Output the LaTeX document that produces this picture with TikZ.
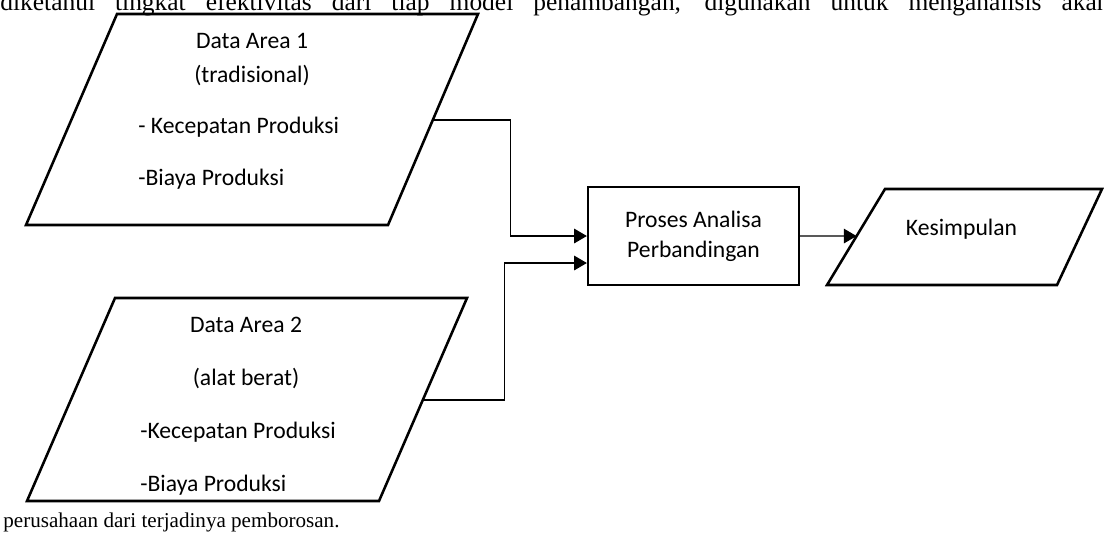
\documentclass[tikz,border=0pt]{standalone}
\usepackage{fontspec}
\setmainfont{Liberation Serif}
\newfontfamily\calibri{Carlito}
\usetikzlibrary{calc, arrows.meta}

\begin{document}
\begin{tikzpicture}[x=0.55pt, y=-0.55pt,
		shape line/.style={line width=1.4pt, line join=miter},
		conn/.style={line width=0.7pt, -{Triangle[length=7pt, width=8pt]}},
		label text/.style={font=\calibri\fontsize{13}{16.5}\selectfont, inner sep=0pt},
		body text/.style={font=\fontsize{12}{14}\selectfont, inner sep=0pt}]
		
		\clip (0,0) rectangle (1104,533);
		
		% running text above and below
		\node [body text, font=\fontsize{14}{16}\selectfont, anchor=base west] (text top) at (0,10)
			{\makebox[610pt][s]{diketahui tingkat efektivitas dari tiap model penambangan, digunakan untuk menganalisis akan}};
		\node [body text, font=\fontsize{11.6}{14}\selectfont, anchor=base west] (text bottom) at (3,527)
			{perusahaan dari terjadinya pemborosan.};
		
		% data area 1
		\coordinate (area1 a) at (117,14);
		\coordinate (area1 b) at (478,14);
		\coordinate (area1 c) at (388,225);
		\coordinate (area1 d) at (26,225);
		\coordinate (area1 out) at ($ (area1 b)!0.502!(area1 c) $);
		
		\draw [shape line] (area1 a) -- (area1 b) -- (area1 c) -- (area1 d) -- cycle;
		
		\node [label text, anchor=base] (area1 title) at (252,48) {Data Area 1};
		\node [label text, anchor=base] (area1 type) at (252,82) {(tradisional)};
		\node [label text, anchor=base west] (area1 speed) at (138,133) {- Kecepatan Produksi};
		\node [label text, anchor=base west] (area1 cost) at (138,185) {-Biaya Produksi};
		
		% data area 2
		\coordinate (area2 a) at (115,298);
		\coordinate (area2 b) at (467,298);
		\coordinate (area2 c) at (379,501);
		\coordinate (area2 d) at (27,501);
		\coordinate (area2 out) at ($ (area2 b)!0.502!(area2 c) $);
		
		\draw [shape line] (area2 a) -- (area2 b) -- (area2 c) -- (area2 d) -- cycle;
		
		\node [label text, anchor=base] (area2 title) at (246,332) {Data Area 2};
		\node [label text, anchor=base] (area2 type) at (246,385) {(alat berat)};
		\node [label text, anchor=base west] (area2 speed) at (140,438) {-Kecepatan Produksi};
		\node [label text, anchor=base west] (area2 cost) at (140,491) {-Biaya Produksi};
		
		% analysis box
		\node [label text, draw, line width=1.3pt, minimum width=116pt, minimum height=53.9pt, align=center] (analysis) at (693.5,236) {Proses Analisa\\Perbandingan};
		
		% conclusion
		\coordinate (result a) at (885,189);
		\coordinate (result b) at (1102,189);
		\coordinate (result c) at (1057,285);
		\coordinate (result d) at (827,285);
		\coordinate (result in) at ($ (result a)!0.49!(result d) $);
		
		\draw [shape line] (result a) -- (result b) -- (result c) -- (result d) -- cycle;
		
		\node [label text, anchor=base] (result) at (961.5,235) {Kesimpulan};
		
		% connectors
		\draw [conn] (area1 out) -- ++(78,0) |- (analysis.west);
		\draw [conn] (area2 out) -- ++(82,0) |- ($ (analysis.west) + (0,27) $);
		\draw [conn] (analysis.east) -- (result in);
	\end{tikzpicture}
\end{document}
